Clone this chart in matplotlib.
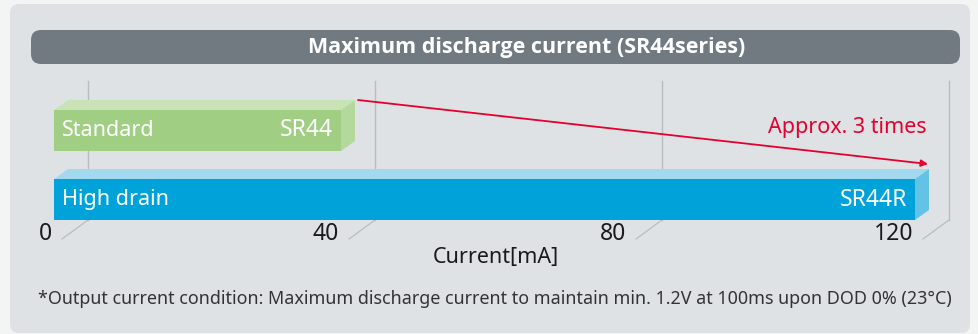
import matplotlib.pyplot as plt
from matplotlib.patches import FancyBboxPatch, Polygon, Rectangle

# data
series = ['Standard', 'High drain']
models = ['SR44', 'SR44R']
current_ma = [40, 120]
ticks = [0, 40, 80, 120]
title = 'Maximum discharge current (SR44series)'
xlabel = 'Current[mA]'
ratio_label = 'Approx. 3 times'
note = ('*Output current condition: Maximum discharge current to maintain '
        'min. 1.2V at 100ms upon DOD 0% (23°C)')

front_col = ['#a0cf84', '#00a3d9']
top_col = ['#c9e3b7', '#a3d9ef']
side_col = ['#b4d99d', '#63c3e7']
red = '#e5002d'

plt.rcParams['font.family'] = ['Noto Sans', 'DejaVu Sans']

W, H = 979, 334
fig = plt.figure(figsize=(W / 100, H / 100), dpi=100)
fig.patch.set_facecolor('#f3f4f4')

# background panel + title bar, in pixel units
bg = fig.add_axes([0, 0, 1, 1])
bg.set_xlim(0, W)
bg.set_ylim(H, 0)
bg.axis('off')
bg.add_patch(FancyBboxPatch((10, 4), 960, 329, boxstyle='round,pad=0,rounding_size=9',
                            fc='#dfe2e5', ec='none'))
bg.add_patch(FancyBboxPatch((31, 30), 929, 34, boxstyle='round,pad=0,rounding_size=10',
                            fc='#717a80', ec='none'))
bg.text(527, 47, title, color='white', fontsize=15.5, fontweight='bold',
        family=['Open Sans', 'DejaVu Sans'], ha='center', va='center')
bg.text(38, 299, note, color='#333333', fontsize=12.9, ha='left', va='center')

# chart axes: x in mA, y in pixel rows
PX = 7.175      # pixels per mA
X0 = 54         # left edge of bar fronts
ax = fig.add_axes([0, 0, 1, 1])
ax.patch.set_alpha(0)
ax.set_xlim(-X0 / PX, (W - X0) / PX)
ax.set_ylim(H, 0)
ax.axis('off')


def dx(p):
    return p / PX


# back-wall grid lines and floor diagonals
for t in ticks:
    ax.plot([t + dx(34), t + dx(34)], [81, 220], color='#b9bdc1', lw=1, zorder=1)
    ax.plot([t + dx(34), t + dx(8)], [220, 239], color='#b9bdc1', lw=0.9, zorder=1)
    ax.text(t - dx(2), 234, str(t), fontsize=16.5, color='#1a1a1a', ha='right', va='center')

ax.text(60 + dx(11), 258, xlabel, fontsize=15.5, color='#1a1a1a', ha='center', va='center')

# 3d-ish bars
bar_top = [110, 179]
bar_h = 41
depth_x, depth_y = 14, 10
for i, v in enumerate(current_ma):
    y0 = bar_top[i]
    ax.add_patch(Polygon([(0, y0), (v, y0), (v + dx(depth_x), y0 - depth_y),
                          (dx(depth_x), y0 - depth_y)], closed=True,
                         fc=top_col[i], ec='none', zorder=3))
    ax.add_patch(Polygon([(v, y0), (v + dx(depth_x), y0 - depth_y),
                          (v + dx(depth_x), y0 + bar_h - depth_y), (v, y0 + bar_h)],
                         closed=True, fc=side_col[i], ec='none', zorder=3))
    ax.add_patch(Rectangle((0, y0), v, bar_h, fc=front_col[i], ec='none', zorder=4))
    ax.text(dx(8), y0 + bar_h / 2, series[i], color='white', fontsize=15.5,
            ha='left', va='center', zorder=5)
    ax.text(v - dx(8), y0 + bar_h / 2, models[i], color='white', fontsize=16.5,
            ha='right', va='center', zorder=5)

# ratio arrow from the standard bar to the high drain bar
ax.annotate('', xy=(current_ma[1] + dx(13), 164), xytext=(current_ma[0] + dx(17), 100),
            arrowprops=dict(arrowstyle='-|>', color=red, lw=1.3, mutation_scale=10,
                            shrinkA=0, shrinkB=0), zorder=6)
ax.text(current_ma[1] + dx(12), 127, ratio_label, color=red, fontsize=15.5,
        ha='right', va='center')

fig.savefig('out.png', dpi=100, facecolor=fig.get_facecolor())
